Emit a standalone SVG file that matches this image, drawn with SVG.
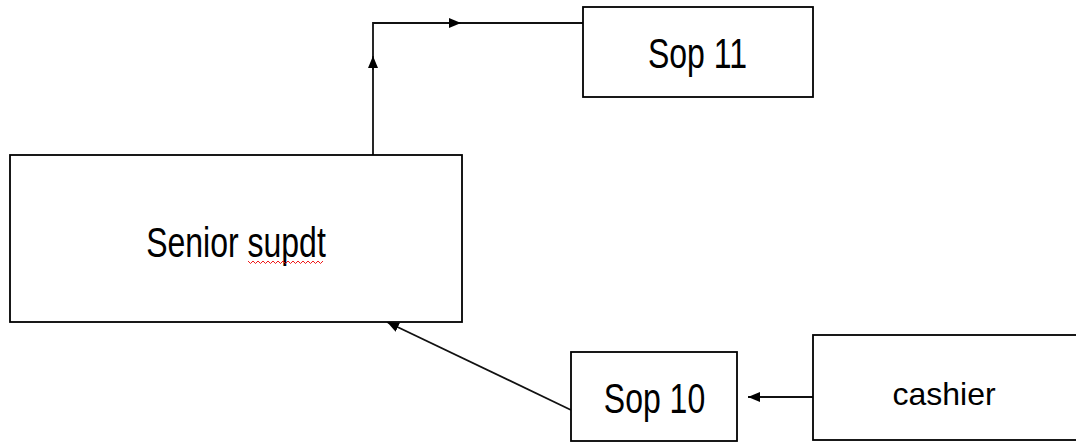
<svg xmlns="http://www.w3.org/2000/svg" width="1076" height="443" viewBox="0 0 1076 443">
  <style>
    .box { fill: #fff; stroke: #000; stroke-width: 1.8; }
    .lbl { font-family: "Liberation Sans", Arial, sans-serif; font-size: 32px; fill: #000; text-anchor: middle; }
    .conn { fill: none; stroke: #111; stroke-width: 1.8; }
  </style>
  <defs>
    <marker id="ah" viewBox="0 0 12 10" refX="12" refY="5" markerWidth="12" markerHeight="10" markerUnits="userSpaceOnUse" orient="auto">
      <path d="M0,0 L12,5 L0,10 Z" fill="#000"/>
    </marker>
  </defs>
  <rect width="1076" height="443" fill="#fff"/>
  <g id="connectors">
    <polyline class="conn" points="373,155 373,23 583,23"/>
    <path class="conn" d="M373,70 L373,56" marker-end="url(#ah)"/>
    <path class="conn" d="M448,23 L461,23" marker-end="url(#ah)"/>
    <path class="conn" d="M571,410 L387,322" marker-end="url(#ah)"/>
    <path class="conn" d="M813,397 L748,397" marker-end="url(#ah)"/>
  </g>
  <g id="node-sop11">
    <rect class="box" x="583" y="7" width="230" height="90"/>
    <text class="lbl" transform="translate(697.5,68) scale(1,1.35)">Sop 11</text>
  </g>
  <g id="node-senior">
    <rect class="box" x="10" y="155" width="452" height="167"/>
    <text class="lbl" transform="translate(236,257) scale(1,1.35)">Senior supdt</text>
    <path d="M248,261 l2.5,2.5 l2.5,-2.5 l2.5,2.5 l2.5,-2.5 l2.5,2.5 l2.5,-2.5 l2.5,2.5 l2.5,-2.5 l2.5,2.5 l2.5,-2.5 l2.5,2.5 l2.5,-2.5 l2.5,2.5 l2.5,-2.5 l2.5,2.5 l2.5,-2.5 l2.5,2.5 l2.5,-2.5 l2.5,2.5 l2.5,-2.5 l2.5,2.5 l2.5,-2.5 l2.5,2.5 l2.5,-2.5 l2.5,2.5 l2.5,-2.5 l2.5,2.5 l2.5,-2.5 l2.5,2.5 l2.5,-2.5" fill="none" stroke="#e00" stroke-width="0.9"/>
  </g>
  <g id="node-sop10">
    <rect class="box" x="571" y="352" width="166" height="89"/>
    <text class="lbl" transform="translate(654.5,413) scale(1,1.35)">Sop 10</text>
  </g>
  <g id="node-cashier">
    <rect class="box" x="813" y="335" width="268" height="105"/>
    <text class="lbl" x="944" y="405">cashier</text>
  </g>
</svg>
